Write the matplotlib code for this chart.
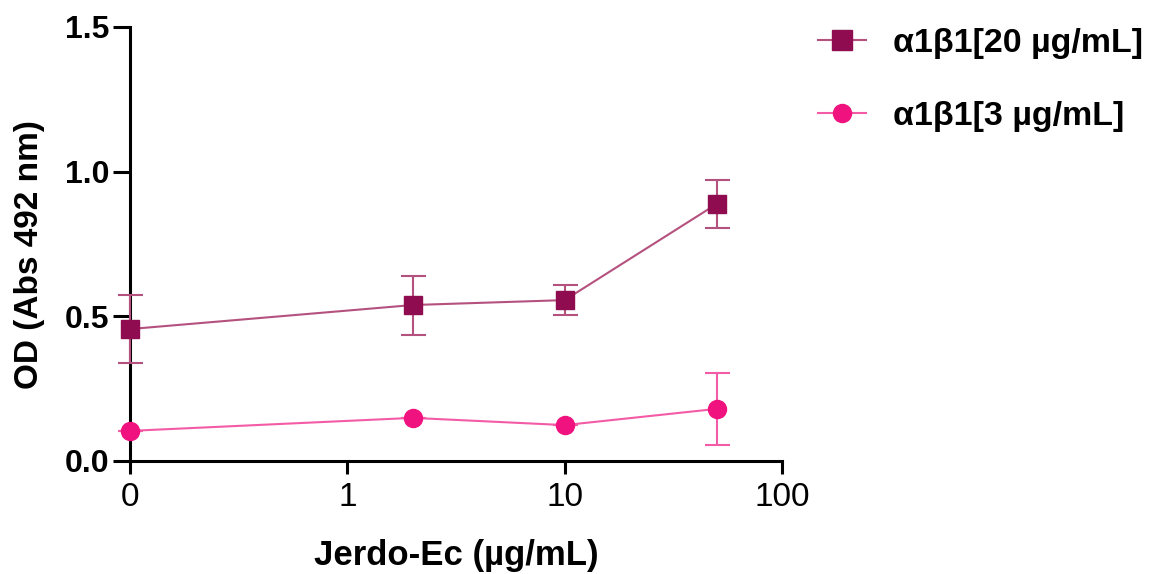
import matplotlib
matplotlib.use("Agg")
import matplotlib.pyplot as plt
import matplotlib.ticker as ticker
from matplotlib.lines import Line2D

plt.rcParams['font.family'] = ['Liberation Sans', 'DejaVu Sans']

# concentrations (0 plotted at 0.1 on the log axis)
conc = [0.1, 2, 10, 50]
tick_pos = [0.1, 1, 10, 100]
tick_labels = ["0", "1", "10", "100"]

od_20 = [0.456, 0.539, 0.556, 0.888]
err_20 = [0.117, 0.102, 0.053, 0.083]
od_3 = [0.104, 0.149, 0.124, 0.180]
err_3 = [0.0, 0.0, 0.0, 0.125]

c20_line, c20_mark = "#B5517F", "#8E0C4F"
c3_line, c3_mark = "#F45BA6", "#F0137F"

fig = plt.figure(figsize=(11.59, 5.74), dpi=100)
ax = fig.add_axes([0.1122, 0.1969, 0.6747 - 0.1122, 0.953 - 0.1969])

ax.errorbar(conc, od_20, yerr=err_20, color=c20_line, ecolor=c20_line,
            marker="s", markersize=13.5, markerfacecolor=c20_mark,
            markeredgecolor=c20_mark, lw=1.5, elinewidth=1.5, capsize=9,
            capthick=1.5, clip_on=False, zorder=3)
ax.errorbar(conc, od_3, yerr=err_3, color=c3_line, ecolor=c3_line,
            marker="o", markersize=13, markerfacecolor=c3_mark,
            markeredgecolor=c3_mark, lw=1.5, elinewidth=1.5, capsize=9,
            capthick=1.5, clip_on=False, zorder=3)

ax.set_xscale("log")
ax.set_xlim(0.1, 100)
ax.set_ylim(0, 1.5)
ax.set_xticks(tick_pos)
ax.set_xticklabels(tick_labels, fontsize=24)
ax.xaxis.set_minor_locator(ticker.NullLocator())
ax.set_yticks([0, 0.5, 1.0, 1.5])
ax.set_yticklabels(["0.0", "0.5", "1.0", "1.5"], fontweight="bold", fontsize=23)

for s in ["top", "right"]:
    ax.spines[s].set_visible(False)
for s in ["left", "bottom"]:
    ax.spines[s].set_linewidth(2.2)
ax.tick_params(axis="y", width=2.2, length=12, direction="out", pad=3)
ax.tick_params(axis="x", width=2.2, length=9, direction="out", pad=6)

ax.set_xlabel("Jerdo-Ec (µg/mL)", fontsize=25, fontweight="bold", labelpad=19)
ax.set_ylabel("OD (Abs 492 nm)", fontsize=24, fontweight="bold", labelpad=14)
ax.yaxis.label.set_y(0.475)

handles = [
    Line2D([], [], color=c20_line, lw=1.5, marker="s", markersize=14,
           markerfacecolor=c20_mark, markeredgecolor=c20_mark),
    Line2D([], [], color=c3_line, lw=1.5, marker="o", markersize=13,
           markerfacecolor=c3_mark, markeredgecolor=c3_mark),
]
labels = ["α1β1[20 µg/mL]", "α1β1[3 µg/mL]"]
fig.legend(handles, labels, loc="upper left", bbox_to_anchor=(0.679, 1.005),
           frameon=False, prop={"size": 24.5, "weight": "bold"},
           labelspacing=1.25, handlelength=1.42, handletextpad=0.8)

fig.savefig("out.png", dpi=100)
